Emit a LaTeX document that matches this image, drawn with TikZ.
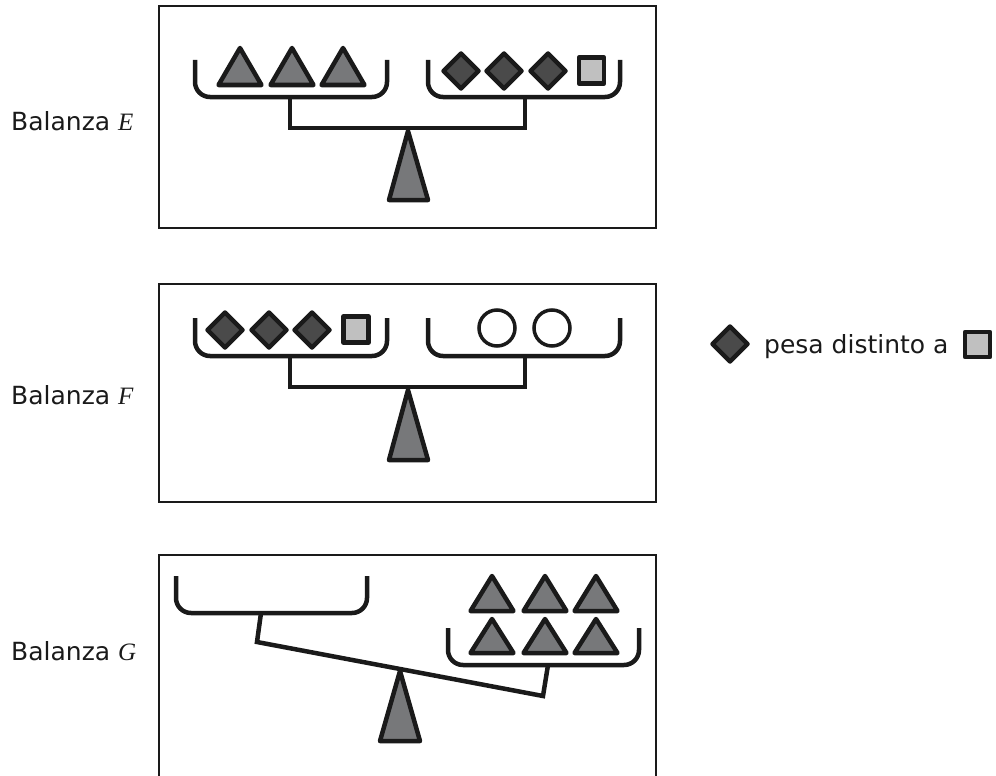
\documentclass[tikz,border=0pt]{standalone}
\usepackage{fontspec}
\setmainfont{DejaVu Sans}
\newfontfamily\letterfont{Liberation Serif}
\newcommand\bal[1]{{\letterfont\itshape #1}}
\definecolor{ink}{HTML}{1A1A1A}
\definecolor{trigray}{HTML}{77787A}
\definecolor{diagray}{HTML}{4A4A4A}
\definecolor{sqgray}{HTML}{C0C0C0}
\newcommand\mytri[3]{\draw[piece] (#1-21.5,#2) -- (#1+21.5,#2) -- (#1,#3) -- cycle;}
\newcommand\mydia[2]{\draw[piece,fill=diagray] (#1-17.5,#2) -- (#1,#2-17.5) -- (#1+17.5,#2) -- (#1,#2+17.5) -- cycle;}
\newcommand\mysq[2]{\draw[piece,fill=sqgray] (#1-12.5,#2-13) rectangle (#1+12.5,#2+13);}
\begin{document}
\begin{tikzpicture}[x=1pt,y=-1pt,
  frame/.style={draw=ink,line width=2pt},
  pan/.style={draw=ink,line width=4.5pt,rounded corners=15pt},
  beam/.style={draw=ink,line width=4.5pt,line join=miter},
  piece/.style={draw=ink,line width=4.5pt,fill=trigray,line join=round},
  fulcrum/.style={draw=ink,line width=4.5pt,fill=trigray,line join=round},
  lbl/.style={anchor=base west,inner sep=0pt,text=ink,font=\fontsize{25}{29}\selectfont}]
\useasboundingbox (0,0) rectangle (996,776);
% frames
\draw[frame] (159,6) rectangle (656,228);
\draw[frame] (159,284) rectangle (656,502);
\draw[frame] (159,778) -- (159,555) -- (656,555) -- (656,778);
% labels
\node[lbl] (labE) at (11,130) {Balanza \bal{E}};
\node[lbl] (labF) at (11,404) {Balanza \bal{F}};
\node[lbl] (labG) at (11,660) {Balanza \bal{G}};
% ---------- Balanza E
\draw[pan] (195,60) -- (195,97) -- (387,97) -- (387,60);
\draw[pan] (428,60) -- (428,97) -- (620,97) -- (620,60);
\draw[beam] (290,97) -- (290,128) -- (525,128) -- (525,97);
\draw[fulcrum] (408,131) -- (428,200) -- (389,200) -- cycle;
\mytri{240}{85}{48}
\mytri{292}{85}{48}
\mytri{343}{85}{48}
\mydia{461}{71}
\mydia{504}{71}
\mydia{548}{71}
\mysq{591.5}{70.5}
% ---------- Balanza F
\draw[pan] (195,318) -- (195,356) -- (387,356) -- (387,318);
\draw[pan] (428,318) -- (428,356) -- (620,356) -- (620,318);
\draw[beam] (290,356) -- (290,387) -- (525,387) -- (525,356);
\draw[fulcrum] (408,390) -- (428,460) -- (389,460) -- cycle;
\mydia{225}{330}
\mydia{269}{330}
\mydia{312}{330}
\mysq{356}{329.5}
\draw[draw=ink,line width=3.5pt,fill=white] (497,328) circle[radius=18];
\draw[draw=ink,line width=3.5pt,fill=white] (552,328) circle[radius=18];
% ---------- Balanza G
\draw[pan] (176,576) -- (176,613) -- (367,613) -- (367,576);
\draw[pan] (448,628) -- (448,665) -- (639,665) -- (639,628);
\draw[beam] (261,613) -- (257,642) -- (543,696) -- (548,665);
\draw[fulcrum] (400,671) -- (420,741) -- (380,741) -- cycle;
\mytri{492}{611}{576}
\mytri{545}{611}{576}
\mytri{596}{611}{576}
\mytri{492}{653}{619}
\mytri{545}{653}{619}
\mytri{596}{653}{619}
% ---------- legend
\mydia{730}{344}
\node[lbl] (leg) at (764,353) {pesa distinto a};
\draw[piece,fill=sqgray] (965,332) rectangle (990,357);
\end{tikzpicture}
\end{document}
